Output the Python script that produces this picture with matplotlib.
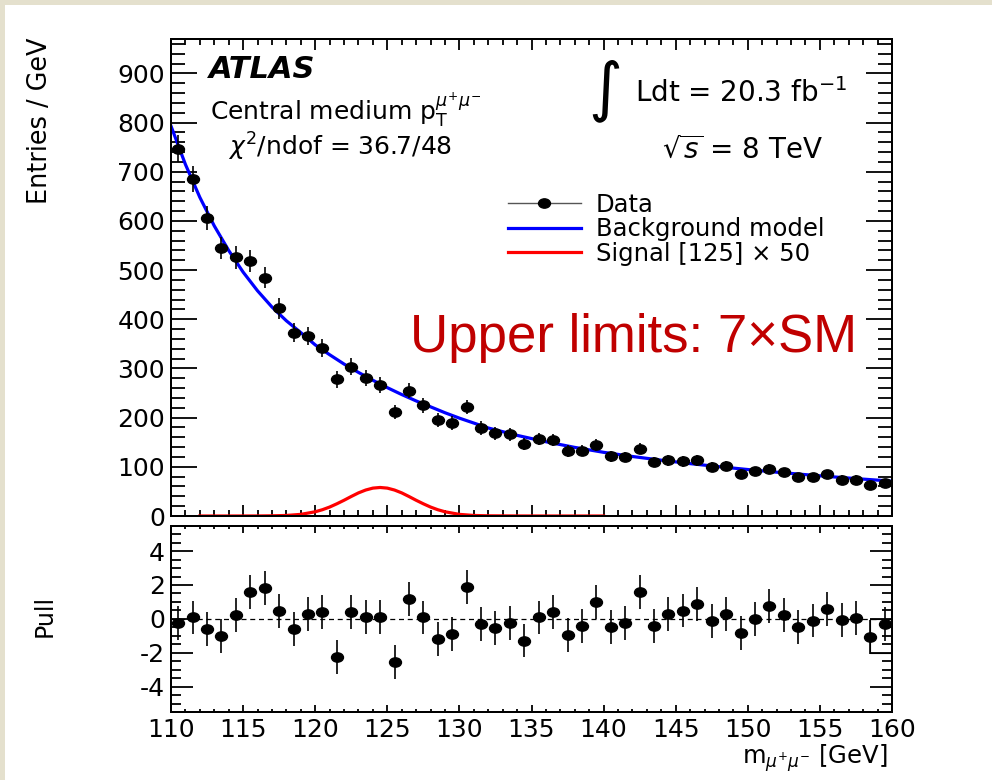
import numpy as np
import matplotlib
matplotlib.use("Agg")
import matplotlib.pyplot as plt
from matplotlib.path import Path
from matplotlib.patches import Rectangle
from matplotlib.lines import Line2D
from matplotlib.ticker import MultipleLocator

plt.rcParams['font.family'] = ['DejaVu Sans']
plt.rcParams['mathtext.fontset'] = 'dejavusans'
plt.rcParams['axes.unicode_minus'] = False

W, H = 992, 780


def fx(px):
    return px / W


def fy(py):
    return 1 - py / H


# ---- data ----
bin_lo, bin_hi = 110, 160   # 1 GeV bins

entries = [747, 685, 606, 545, 526, 518, 485, 422, 373, 366,
           342, 278, 304, 281, 266, 212, 255, 225, 195, 189,
           222, 179, 168, 166, 146, 157, 155, 132, 133, 145,
           121, 120, 137, 110, 113, 111, 113, 99, 101, 86,
           91, 96, 89, 79, 79, 85, 74, 74, 64, 67]
entries_err = [27.3, 26.2, 24.6, 23.3, 22.9, 22.8, 22.0, 20.5, 19.3, 19.1,
               18.5, 16.7, 17.4, 16.8, 16.3, 14.6, 16.0, 15.0, 14.0, 13.7,
               14.9, 13.4, 13.0, 12.9, 12.1, 12.5, 12.4, 11.5, 11.5, 12.0,
               11.0, 11.0, 11.7, 10.5, 10.6, 10.5, 10.6, 9.9, 10.0, 9.3,
               9.5, 9.8, 9.4, 8.9, 8.9, 9.2, 8.6, 8.6, 8.0, 8.2]

bkg_mass = [110, 111, 112, 113, 114, 115, 116, 117, 118, 119, 120, 121, 122, 123,
            124, 125, 126, 127, 128, 129, 130, 132, 134, 136, 138, 140, 142, 144,
            146, 148, 150, 152, 154, 156, 158, 160]
bkg_model = [793, 715, 648, 590, 540, 496, 458, 425, 397, 373, 348, 328, 309, 292,
             276, 261, 247, 234, 222, 210, 199, 179, 164, 151, 139.5, 129.5, 121, 113.5,
             106.5, 100.3, 94.5, 89.1, 84.1, 79.4, 75.0, 70.9]

sig_mass = [112, 114, 116, 117, 118, 119, 120, 120.5, 121, 121.5, 122, 122.5, 123, 123.5,
            124, 124.5, 125, 125.5, 126, 126.5, 127, 127.5, 128, 128.5, 129, 130, 131,
            132, 134, 136, 140]
sig_model = [0, 0, 0.1, 0.4, 1.1, 3.3, 8.6, 12.8, 18.2, 24.8, 32, 39.7, 47, 52.8,
             56.7, 58, 56.7, 52.8, 47, 39.7, 32, 24.8, 18.2, 12.8, 8.6, 3.3, 1.1,
             0.4, 0.1, 0, 0]

pulls = [-0.26, 0.08, -0.59, -0.99, 0.22, 1.60, 1.82, 0.47, -0.59, 0.30,
         0.38, -2.23, 0.43, 0.10, 0.12, -2.53, 1.19, 0.08, -1.21, -0.91,
         1.88, -0.32, -0.55, -0.22, -1.28, 0.08, 0.43, -0.95, -0.40, 0.97,
         -0.49, -0.26, 1.58, -0.42, 0.30, 0.49, 0.89, -0.12, 0.30, -0.85,
         -0.02, 0.77, 0.24, -0.49, -0.10, 0.57, -0.06, 0.04, -1.09, -0.32]
pull_err = [1.0] * len(pulls)

# stray box in the pull pad (x0, x1, y0, y1)
box = [158.5, 160, -2.0, 0.0]

centers = np.arange(bin_lo, bin_hi) + 0.5

# ROOT dots come out slightly squashed in the picture
circ = Path.unit_circle()
dot = Path(circ.vertices * [1.0, 0.78], circ.codes)

fig = plt.figure(figsize=(W / 100, H / 100), dpi=100, facecolor='#e4e0cd')
fig.add_artist(Rectangle((fx(5), 0), 1, fy(5), transform=fig.transFigure,
                         facecolor='white', edgecolor='none', zorder=-10))

ax = fig.add_axes([fx(171), fy(516), fx(892) - fx(171), fy(39) - fy(516)])
axp = fig.add_axes([fx(171), fy(712), fx(892) - fx(171), fy(525.7) - fy(712)])

# main pad
ax.errorbar(centers, entries, yerr=entries_err, fmt='none', ecolor='k', elinewidth=1.2, zorder=3)
ax.plot(centers, entries, ls='none', marker=dot, ms=8.6, color='k', zorder=4)
bkg_line, = ax.plot(bkg_mass, bkg_model, color='#0000ff', lw=2.3, zorder=2)
sig_line, = ax.plot(sig_mass, sig_model, color='#ff0000', lw=2.3, zorder=2)

ax.set_xlim(bin_lo, bin_hi)
ax.set_ylim(0, 970)
ax.xaxis.set_major_locator(MultipleLocator(5))
ax.xaxis.set_minor_locator(MultipleLocator(1))
ax.yaxis.set_major_locator(MultipleLocator(100))
ax.yaxis.set_minor_locator(MultipleLocator(20))
ax.tick_params(which='both', direction='in', top=True, right=True, width=1.3,
               labelbottom=False, labelsize=18, pad=4.3)
ax.tick_params(axis='y', which='major', length=19)
ax.tick_params(axis='y', which='minor', length=10)
ax.tick_params(axis='x', which='major', length=8)
ax.tick_params(axis='x', which='minor', length=4)

data_handle = Line2D([], [], color='#555555', lw=1, marker=dot, ms=8.6, mfc='k', mec='k')
ax.legend([data_handle, bkg_line, sig_line],
          ['Data', 'Background model', 'Signal [125] \u00d7 50'],
          loc='upper left', bbox_to_anchor=(fx(508), fy(193)), bbox_transform=fig.transFigure,
          frameon=False, fontsize=17.5, handlelength=3.0, handletextpad=0.62,
          labelspacing=0.02, borderpad=0, borderaxespad=0)

# pull pad
axp.axhline(0, color='k', ls=(0, (4, 3)), lw=0.9, zorder=1)
axp.errorbar(centers, pulls, yerr=pull_err, fmt='none', ecolor='k', elinewidth=1.2, zorder=3)
axp.plot(centers, pulls, ls='none', marker=dot, ms=8.6, color='k', zorder=4)
axp.add_patch(Rectangle((box[0], box[2]), box[1] - box[0], box[3] - box[2],
                        fill=False, ec='k', lw=0.8, zorder=2))

axp.set_xlim(bin_lo, bin_hi)
axp.set_ylim(-5.5, 5.5)
axp.xaxis.set_major_locator(MultipleLocator(5))
axp.xaxis.set_minor_locator(MultipleLocator(1))
axp.yaxis.set_major_locator(MultipleLocator(2))
axp.yaxis.set_minor_locator(MultipleLocator(0.5))
axp.tick_params(which='both', direction='in', top=True, right=True, width=1.3,
                labelsize=18, pad=4.3)
axp.tick_params(axis='y', which='major', length=16)
axp.tick_params(axis='y', which='minor', length=7)
axp.tick_params(axis='x', which='major', length=5)
axp.tick_params(axis='x', which='minor', length=2.5)

for a in (ax, axp):
    for s in a.spines.values():
        s.set_linewidth(1.44)

# labels and annotations
fig.text(fx(40), fy(38), 'Entries / GeV', rotation=90, fontsize=18.4, ha='center', va='top')
fig.text(fx(45), fy(616), 'Pull', rotation=90, fontsize=17, ha='center', va='center')
fig.text(fx(888), fy(764), r'm$_{\mu^{+}\mu^{-}}$ [GeV]', fontsize=17.5, ha='right', va='baseline')

fig.text(fx(209), fy(78), 'ATLAS', fontsize=22, fontweight='bold', fontstyle='italic', va='baseline')
fig.text(fx(210), fy(120), r'Central medium p$_{\mathrm{T}}^{\mu^{+}\mu^{-}}$', fontsize=18, va='baseline')
fig.text(fx(228), fy(156), r'$\chi^{2}$/ndof = 36.7/48', fontsize=18, va='baseline')
fig.text(fx(605), fy(90), '\u222b', fontsize=47, ha='center', va='center')
fig.text(fx(635), fy(102), r'Ldt = 20.3 fb$^{-1}$', fontsize=20, va='baseline')
fig.text(fx(662), fy(158), r'$\sqrt{s}$ = 8 TeV', fontsize=20, va='baseline')
fig.text(fx(410), fy(352), 'Upper limits: 7\u00d7SM', fontsize=38, color='#c00000',
         family='Liberation Sans', va='baseline')

fig.savefig('out.png', dpi=100, facecolor=fig.get_facecolor())
